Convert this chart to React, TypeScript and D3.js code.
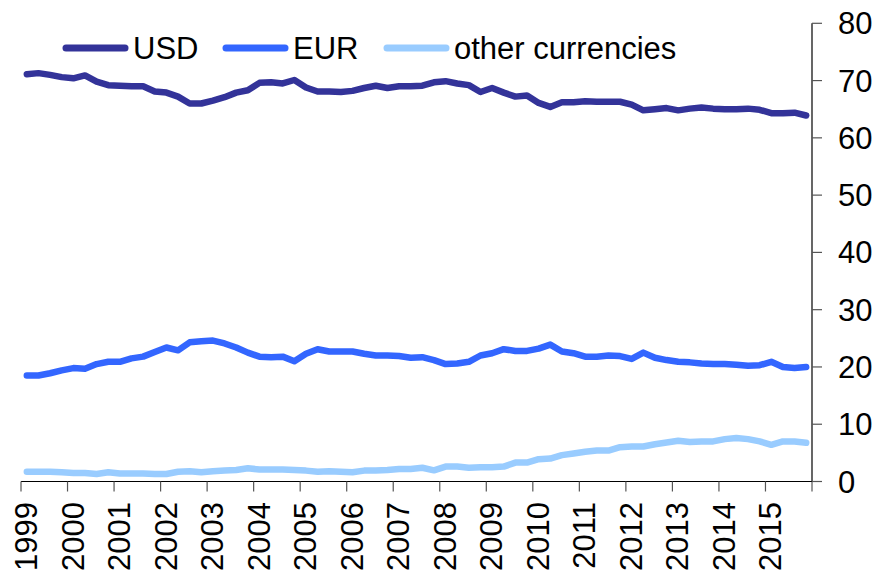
import React from "react";
import * as d3 from "d3";

const years = ["1999","2000","2001","2002","2003","2004","2005","2006","2007","2008","2009","2010","2011","2012","2013","2014","2015"];
const yTicks = [0, 10, 20, 30, 40, 50, 60, 70, 80];

const usd = [
  71.1, 71.3, 71.0, 70.6, 70.4, 70.9, 69.8, 69.2, 69.1, 69.0, 69.0, 68.1, 67.9, 67.2, 66.0, 66.0,
  66.5, 67.1, 67.9, 68.3, 69.6, 69.7, 69.5, 70.1, 68.8, 68.1, 68.1, 68.0, 68.2, 68.7, 69.1, 68.7,
  69.0, 69.0, 69.1, 69.7, 69.9, 69.5, 69.2, 68.0, 68.7, 67.9, 67.2, 67.4, 66.1, 65.4, 66.2, 66.2,
  66.4, 66.3, 66.3, 66.3, 65.8, 64.8, 65.0, 65.2, 64.8, 65.1, 65.3, 65.1, 65.0, 65.0, 65.1, 64.9,
  64.3, 64.3, 64.4, 63.9,
];
const eur = [
  18.5, 18.5, 18.9, 19.4, 19.8, 19.7, 20.5, 20.9, 20.9, 21.5, 21.8, 22.6, 23.4, 22.9, 24.3, 24.5,
  24.6, 24.1, 23.4, 22.5, 21.8, 21.7, 21.8, 21.0, 22.3, 23.1, 22.7, 22.7, 22.7, 22.3, 22.0, 22.0,
  21.9, 21.6, 21.7, 21.2, 20.5, 20.6, 20.9, 22.0, 22.4, 23.1, 22.8, 22.8, 23.2, 23.9, 22.7, 22.4,
  21.8, 21.8, 22.0, 21.9, 21.4, 22.5, 21.6, 21.2, 20.9, 20.8, 20.6, 20.5, 20.5, 20.4, 20.2, 20.3,
  20.9, 20.0, 19.8, 20.0,
];
const other = [
  1.7, 1.7, 1.7, 1.6, 1.5, 1.5, 1.3, 1.6, 1.4, 1.4, 1.4, 1.3, 1.3, 1.7, 1.8, 1.6,
  1.8, 1.9, 2.0, 2.3, 2.1, 2.1, 2.1, 2.0, 1.9, 1.7, 1.8, 1.7, 1.6, 1.9, 1.9, 2.0,
  2.2, 2.2, 2.4, 1.95, 2.6, 2.6, 2.4, 2.5, 2.5, 2.6, 3.3, 3.3, 3.9, 4.0, 4.6, 4.9,
  5.2, 5.4, 5.4, 6.0, 6.1, 6.1, 6.5, 6.8, 7.1, 6.9, 7.0, 7.0, 7.4, 7.6, 7.4, 7.0,
  6.4, 7.0, 7.0, 6.75,
];

const seriesNames = ["USD", "EUR", "other currencies"];
const seriesColors = ["#333399", "#3366FF", "#99CCFF"];

const FONT = "'Liberation Sans', Arial, Helvetica, sans-serif";

export default function App() {
  const W = 876, H = 577;
  const left = 21, right = 812, top = 23.3, bottom = 481.5;
  const x = d3.scaleLinear().domain([0, years.length * 4]).range([left, right]);
  const y = d3.scaleLinear().domain([0, 80]).range([bottom, top]);
  const all = [usd, eur, other];
  const line = d3.line<number>().x((_, i) => x(i + 0.5)).y((d) => y(d));
  const yearTicks = d3.range(years.length + 1);
  const legendX = [66, 226, 387];
  return (
    <svg width={W} height={H} style={{ position: "absolute", left: 0, top: 0 }} fontFamily={FONT}>
      {/* x axis */}
      <line x1={left} x2={right} y1={bottom} y2={bottom} stroke="#000" strokeWidth={1.2} />
      {yearTicks.map((k) => (
        <line key={k} x1={x(k * 4)} x2={x(k * 4)} y1={bottom} y2={bottom + 10} stroke="#555" strokeWidth={1.2} />
      ))}
      {years.map((lab, k) => (
        <text key={lab} transform={`translate(${x(k * 4) + 16},${502}) rotate(-90)`} textAnchor="end" fontSize={31} fill="#000">
          {lab}
        </text>
      ))}
      {/* y axis */}
      <line x1={right} x2={right} y1={top} y2={bottom} stroke="#000" strokeWidth={1.2} />
      {yTicks.map((t) => (
        <g key={t}>
          <line x1={right} x2={right + 10} y1={y(t)} y2={y(t)} stroke="#555" strokeWidth={1.2} />
          <text x={838} y={y(t) + 11} fontSize={31} fill="#000">{t}</text>
        </g>
      ))}
      {/* lines */}
      {all.map((s, k) => (
        <path key={k} d={line(s) || ""} fill="none" stroke={seriesColors[k]} strokeWidth={6.5} strokeLinejoin="round" strokeLinecap="round" />
      ))}
      {/* legend */}
      {seriesNames.map((n, k) => (
        <g key={n}>
          <line x1={legendX[k]} x2={legendX[k] + 59} y1={48} y2={48} stroke={seriesColors[k]} strokeWidth={7} strokeLinecap="round" />
          <text x={legendX[k] + 67} y={59} fontSize={31} fill="#000">{n}</text>
        </g>
      ))}
    </svg>
  );
}
